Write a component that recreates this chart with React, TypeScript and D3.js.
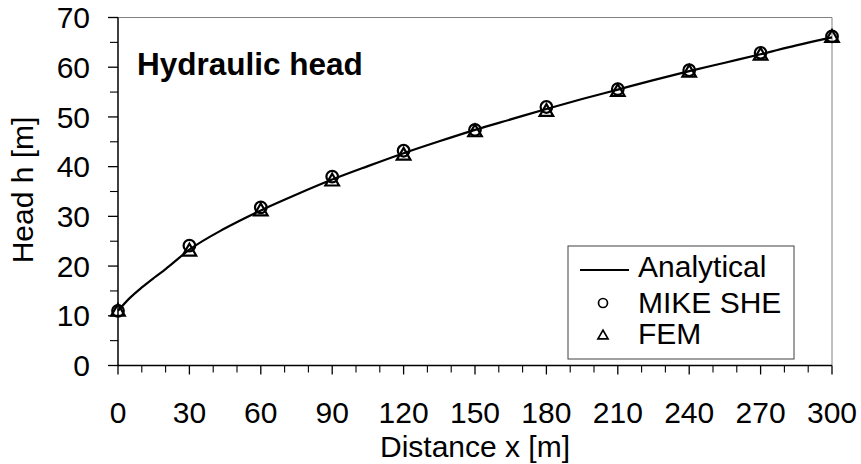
import * as d3 from "d3";

// sample positions along x [m]
const stations = [0, 30, 60, 90, 120, 150, 180, 210, 240, 270, 300];
const mikeShe = [11.0, 24.1, 31.8, 38.0, 43.2, 47.4, 52.0, 55.6, 59.4, 62.9, 66.2];
const fem = [10.8, 22.9, 31.0, 37.0, 42.2, 46.9, 51.0, 55.0, 58.9, 62.3, 65.9];

// analytical curve
const analyticalX = [0, 5, 10, 15, 20, 30, 45, 60, 75, 90, 105, 120, 135, 150, 165, 180, 195, 210, 225, 240, 255, 270, 285, 300];
const analyticalH = [11.0, 13.6, 15.7, 17.6, 19.4, 23.3, 27.6, 31.2, 34.4, 37.4, 40.1, 42.7, 45.1, 47.4, 49.5, 51.6, 53.6, 55.5, 57.4, 59.2, 60.9, 62.6, 64.4, 66.0];

const xTicks = [0, 30, 60, 90, 120, 150, 180, 210, 240, 270, 300];
const yTicks = [0, 10, 20, 30, 40, 50, 60, 70];

const W = 861;
const H = 464;
const font = "'Liberation Sans', Arial, sans-serif";

export default function App() {
  const margin = { top: 17.5, right: 29, bottom: 98.5, left: 118 };
  const x = d3.scaleLinear().domain([0, 300]).range([margin.left, W - margin.right]);
  const y = d3.scaleLinear().domain([0, 70]).range([H - margin.bottom, margin.top]);

  const line = d3
    .line<number>()
    .x((_, i) => x(analyticalX[i]))
    .y((d) => y(d))
    .curve(d3.curveMonotoneX);

  const tri = d3.symbol(d3.symbolTriangle, 80)() || "";
  const triSmall = d3.symbol(d3.symbolTriangle, 44)() || "";

  const xMinor = d3.range(0, 301, 10).filter((v) => v % 30 !== 0);
  const yMinor = d3.range(5, 70, 10);
  const x0 = x(0);
  const y0 = y(0);

  return (
    <svg
      width={W}
      height={H}
      style={{ position: "absolute", left: 0, top: 0, background: "#fff" }}
      fontFamily={font}
    >
      {/* frame */}
      <line x1={x0} x2={x(300)} y1={y(70)} y2={y(70)} stroke="#808080" strokeWidth={1} />
      <line x1={x(300)} x2={x(300)} y1={y(70)} y2={y0} stroke="#808080" strokeWidth={1} />

      {/* y axis */}
      <line x1={x0} x2={x0} y1={y(70)} y2={y0} stroke="#000" strokeWidth={1.5} />
      {yTicks.map((v) => (
        <g key={"y" + v}>
          <line x1={x0 - 10} x2={x0} y1={y(v)} y2={y(v)} stroke="#000" strokeWidth={1.3} />
          <text x={90} y={y(v) + 10.7} textAnchor="end" fontSize={30}>
            {v}
          </text>
        </g>
      ))}
      {yMinor.map((v) => (
        <line key={"ym" + v} x1={x0 - 8} x2={x0} y1={y(v)} y2={y(v)} stroke="#000" strokeWidth={1.1} />
      ))}

      {/* x axis */}
      <line x1={x0} x2={x(300)} y1={y0} y2={y0} stroke="#000" strokeWidth={1.5} />
      {xTicks.map((v) => (
        <g key={"x" + v}>
          <line x1={x(v)} x2={x(v)} y1={y0} y2={y0 + 9} stroke="#000" strokeWidth={1.3} />
          <text x={x(v)} y={423} textAnchor="middle" fontSize={30}>
            {v}
          </text>
        </g>
      ))}
      {xMinor.map((v) => (
        <line key={"xm" + v} x1={x(v)} x2={x(v)} y1={y0} y2={y0 + 7} stroke="#000" strokeWidth={1.1} />
      ))}

      {/* axis titles */}
      <text x={475} y={457} textAnchor="middle" fontSize={30}>
        Distance x [m]
      </text>
      <text transform="translate(33,190) rotate(-90)" textAnchor="middle" fontSize={30}>
        Head h [m]
      </text>

      {/* chart title */}
      <text x={137} y={75} fontSize={31.5} fontWeight="bold">
        Hydraulic head
      </text>

      {/* analytical line */}
      <path d={line(analyticalH) || ""} fill="none" stroke="#000" strokeWidth={2.2} />

      {/* MIKE SHE */}
      {stations.map((s, i) => (
        <circle key={"c" + s} cx={x(s)} cy={y(mikeShe[i])} r={5.8} fill="none" stroke="#000" strokeWidth={2.2} />
      ))}
      {/* FEM */}
      {stations.map((s, i) => (
        <path
          key={"t" + s}
          d={tri}
          transform={`translate(${x(s)},${y(fem[i])})`}
          fill="none"
          stroke="#000"
          strokeWidth={2.2}
        />
      ))}

      {/* legend */}
      <rect x={568} y={246} width={226} height={113} fill="#fff" stroke="#404040" strokeWidth={1} />
      <line x1={580} x2={629} y1={270} y2={270} stroke="#000" strokeWidth={2} />
      <text x={638} y={277} fontSize={30}>
        Analytical
      </text>
      <circle cx={603} cy={303} r={4.5} fill="none" stroke="#000" strokeWidth={1.7} />
      <text x={638} y={313} fontSize={30}>
        MIKE SHE
      </text>
      <path d={triSmall} transform="translate(603,336)" fill="none" stroke="#000" strokeWidth={1.7} />
      <text x={638} y={344} fontSize={30}>
        FEM
      </text>
    </svg>
  );
}
